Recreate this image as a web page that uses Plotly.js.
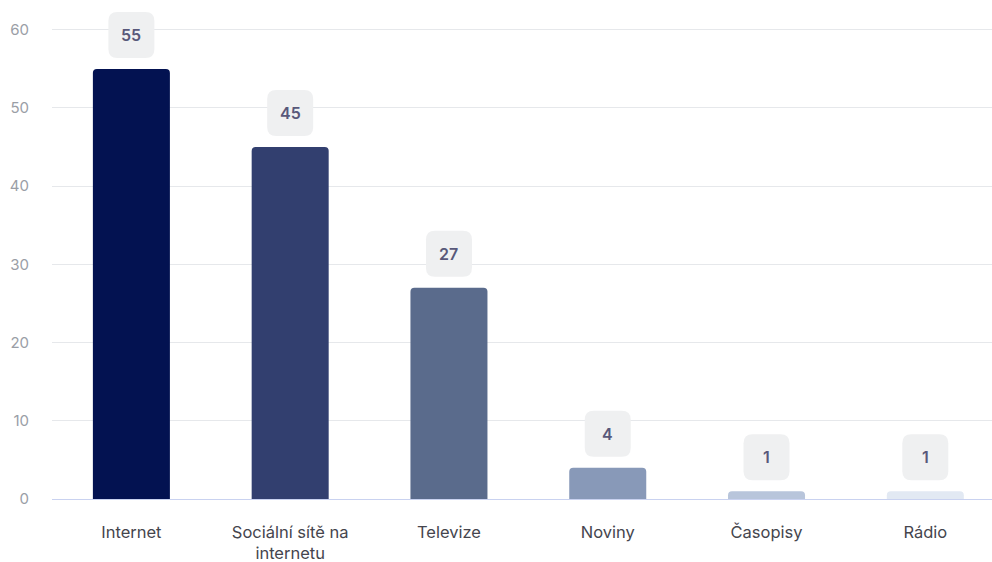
<!DOCTYPE html>
<html>
<head>
<meta charset="utf-8">
<script src="https://cdn.plot.ly/plotly-3.0.1.min.js"></script>
<style>html,body{margin:0;padding:0;background:#fff;}#chart{width:992px;height:562px;}</style>
</head>
<body>
<div id="chart"></div>
<script>
const categories = ["Internet", "Sociální sítě na<br>internetu", "Televize", "Noviny", "Časopisy", "Rádio"];
const values = [55, 45, 27, 4, 1, 1];
const barColors = ["#031251", "#323f6f", "#5a6b8c", "#8899b8", "#b8c5db", "#e2e9f3"];
const yTicks = [0, 10, 20, 30, 40, 50, 60];

const boxW = 46, boxH = 46, boxR = 9, boxGap = 11;
function roundRect(w, h, r, base) {
  const x0 = -w / 2, x1 = w / 2, y0 = base, y1 = base + h;
  return `M${x0 + r},${y0} L${x1 - r},${y0} Q${x1},${y0} ${x1},${y0 + r} L${x1},${y1 - r} Q${x1},${y1} ${x1 - r},${y1} L${x0 + r},${y1} Q${x0},${y1} ${x0},${y1 - r} L${x0},${y0 + r} Q${x0},${y0} ${x0 + r},${y0} Z`;
}

const shapes = categories.map((c, i) => ({
  type: "path",
  xref: "x", yref: "y",
  xsizemode: "pixel", ysizemode: "pixel",
  xanchor: c, yanchor: values[i],
  path: roundRect(boxW, boxH, boxR, boxGap),
  fillcolor: "#eff0f1",
  line: {width: 0},
  layer: "above"
}));

const annotations = categories.map((c, i) => ({
  x: c, y: values[i], xref: "x", yref: "y",
  text: String(values[i]),
  showarrow: false,
  yshift: boxGap + boxH / 2,
  font: {family: "Inter, sans-serif", size: 16, color: "#58587a", weight: 600}
}));

const trace = {
  type: "bar",
  x: categories,
  y: values,
  width: 0.485,
  marker: {color: barColors, cornerradius: 4},
  hoverinfo: "skip",
  cliponaxis: false
};

const layout = {
  width: 992, height: 562,
  margin: {l: 52, r: 0, t: 5, b: 63},
  paper_bgcolor: "#fff", plot_bgcolor: "#fff",
  showlegend: false,
  font: {family: "Inter, sans-serif"},
  xaxis: {
    type: "category",
    range: [-0.5, 5.42],
    showgrid: false, zeroline: false, showline: false,
    ticks: "", ticklabelstandoff: 21,
    tickfont: {family: "Inter, sans-serif", size: 16.5, color: "#45454d"},
    fixedrange: true
  },
  yaxis: {
    range: [0, 63.17],
    tickvals: yTicks,
    ticktext: yTicks.map(String),
    showgrid: true, gridcolor: "#e6e8eb", gridwidth: 1,
    zeroline: true, zerolinecolor: "#c9d2f0", zerolinewidth: 1,
    showline: false, ticks: "",
    ticklabelstandoff: 22,
    tickfont: {family: "Inter, sans-serif", size: 15, color: "#9a9ea6"},
    fixedrange: true
  },
  shapes: shapes,
  annotations: annotations
};

Plotly.newPlot("chart", [trace], layout, {displayModeBar: false, staticPlot: true});
</script>
</body>
</html>
